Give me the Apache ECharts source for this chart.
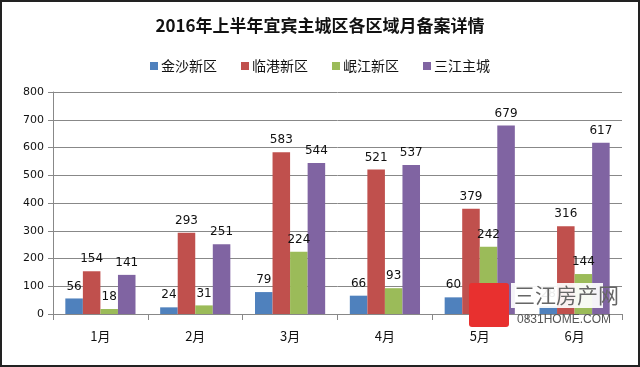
<!DOCTYPE html>
<html><head><meta charset="utf-8">
<script src="https://cdn.jsdelivr.net/npm/echarts@6/dist/echarts.min.js"></script>
<style>html,body{margin:0;padding:0;background:#fff}#c{width:640px;height:367px;box-sizing:border-box;border:2px solid #222}</style>
</head><body><div id="c"></div>
<script>
const categories = ['1月','2月','3月','4月','5月','6月'];
const seriesNames = ['金沙新区','临港新区','岷江新区','三江主城'];
const jinsha = [56, 24, 79, 66, 60, 28];
const lingang = [154, 293, 583, 521, 379, 316];
const minjiang = [18, 31, 224, 93, 242, 144];
const sanjiang = [141, 251, 544, 537, 679, 617];
const yTicks = {min: 0, max: 800, interval: 100};
const colors = ['#4F81BD','#C0504D','#9BBB59','#8064A2'];
const values = [jinsha, lingang, minjiang, sanjiang];

const chart = echarts.init(document.getElementById('c'));
chart.setOption({
  animation: false,
  title: {text: '2016年上半年宜宾主城区各区域月备案详情', left: 'center', top: 10,
    textStyle: {fontFamily: 'Noto Sans CJK SC', fontSize: 17, fontWeight: 'bold', color: '#111'}},
  legend: {top: 52, left: 'center', itemWidth: 8, itemHeight: 8, itemGap: 24, icon: 'rect',
    textStyle: {fontFamily: 'Noto Sans CJK SC', fontSize: 14, color: '#111', padding: [0,0,0,-2]}},
  grid: {left: 51, right: 16, top: 90, bottom: 51, containLabel: false},
  xAxis: {type: 'category', data: categories,
    axisLine: {lineStyle: {color: '#888'}},
    axisTick: {show: true, length: 6, lineStyle: {color: '#888'}},
    axisLabel: {fontFamily: 'Noto Sans CJK SC', fontSize: 13, color: '#111', margin: 16}},
  yAxis: {type: 'value', min: yTicks.min, max: yTicks.max, interval: yTicks.interval,
    axisLine: {show: true, lineStyle: {color: '#888'}},
    axisTick: {show: true, length: 5, lineStyle: {color: '#888'}},
    splitLine: {lineStyle: {color: '#888'}},
    axisLabel: {fontFamily: 'DejaVu Sans', fontSize: 11, color: '#111', margin: 9}},
  series: seriesNames.map((n, i) => ({
    name: n, type: 'bar', data: values[i], barGap: '0%', barCategoryGap: '26%',
    itemStyle: {color: colors[i]},
    label: {show: true, position: 'top', distance: 6, fontFamily: 'DejaVu Sans', fontSize: 12, color: '#111'}
  })),
  graphic: [
    {type: 'rect', left: 467, top: 281, shape: {width: 40, height: 44, r: 3}, style: {fill: '#e8302f'}, z: 100},
    {type: 'rect', left: 509, top: 281, shape: {width: 92, height: 25}, style: {fill: 'rgba(255,255,255,0.92)'}, z: 99},
    {type: 'text', left: 512, top: 283, style: {text: '三江房产网', fontFamily: 'Noto Sans CJK SC', fontSize: 21, fill: '#666'}, z: 100},
    {type: 'text', left: 515, top: 312, style: {text: '0831HOME.COM', fontFamily: 'Liberation Sans Narrow, Liberation Sans', fontSize: 12, fill: '#555'}, z: 100}
  ]
});
</script></body></html>
